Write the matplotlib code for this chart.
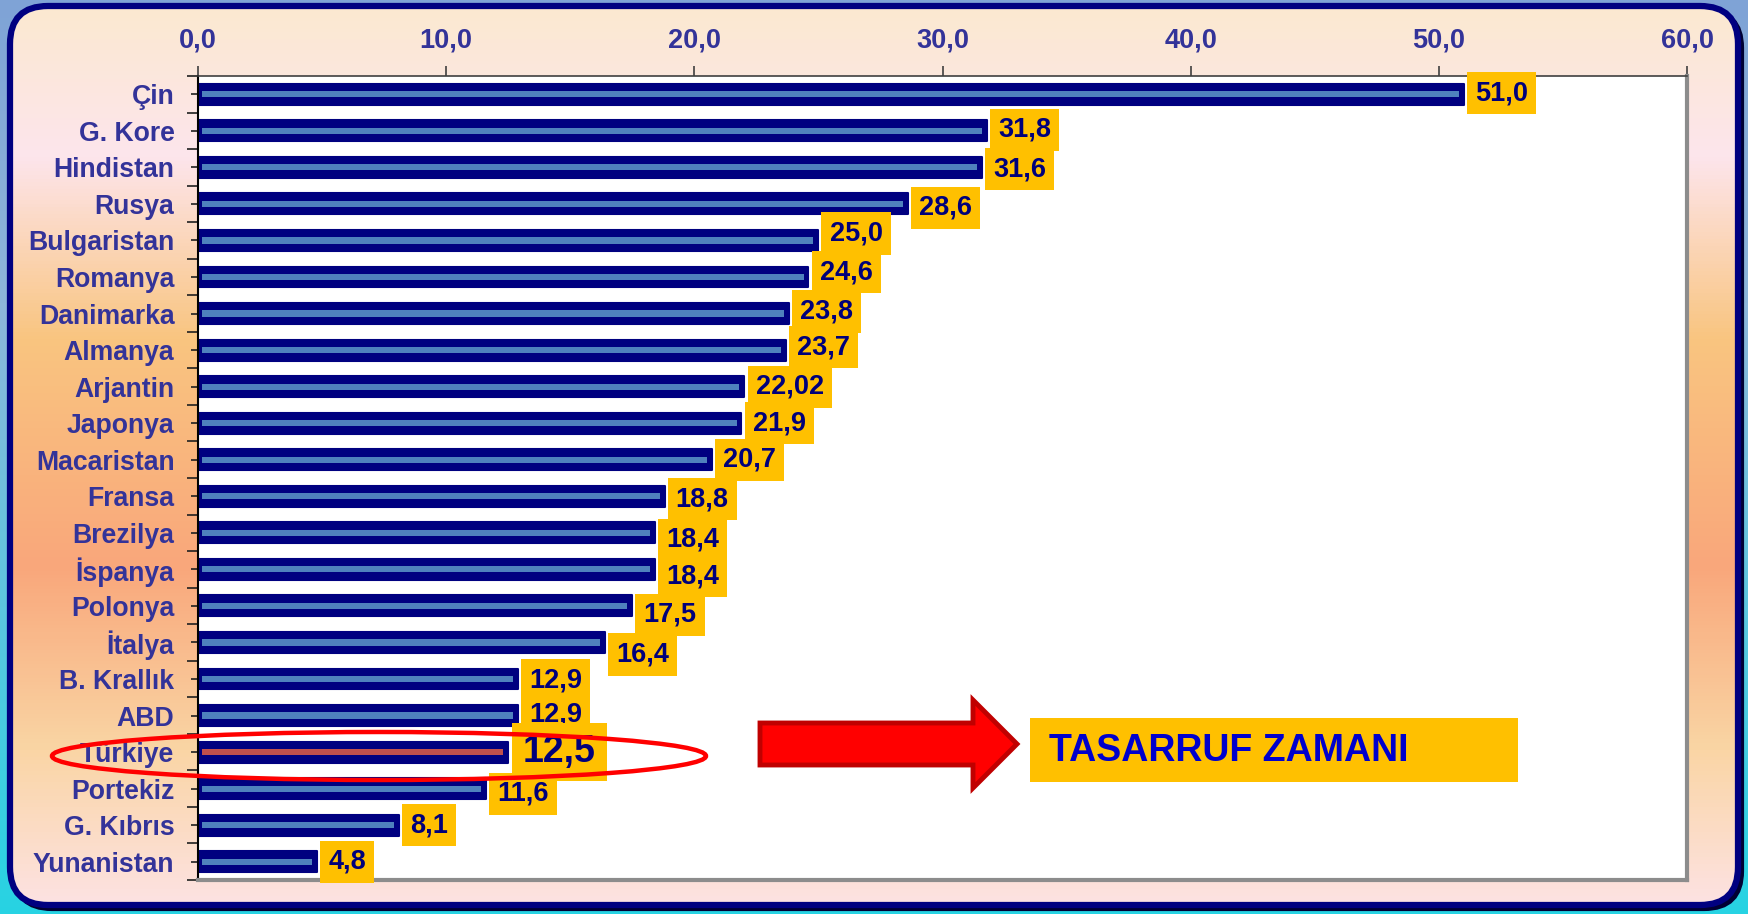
import numpy as np
import matplotlib
matplotlib.use("Agg")
import matplotlib.pyplot as plt
from matplotlib.patches import FancyBboxPatch, Rectangle, Ellipse, Polygon
from matplotlib.colors import LinearSegmentedColormap
from matplotlib.transforms import offset_copy

plt.rcParams['font.family'] = ['Liberation Sans', 'DejaVu Sans']

# ---------------- data ----------------
countries = ["Çin", "G. Kore", "Hindistan", "Rusya", "Bulgaristan", "Romanya",
             "Danimarka", "Almanya", "Arjantin", "Japonya", "Macaristan", "Fransa",
             "Brezilya", "İspanya", "Polonya", "İtalya", "B. Krallık", "ABD",
             "Türkiye", "Portekiz", "G. Kıbrıs", "Yunanistan"]
values = [51.0, 31.8, 31.6, 28.6, 25.0, 24.6, 23.8, 23.7, 22.02, 21.9, 20.7, 18.8,
          18.4, 18.4, 17.5, 16.4, 12.9, 12.9, 12.5, 11.6, 8.1, 4.8]
value_labels = ["51,0", "31,8", "31,6", "28,6", "25,0", "24,6", "23,8", "23,7",
                "22,02", "21,9", "20,7", "18,8", "18,4", "18,4", "17,5", "16,4",
                "12,9", "12,9", "12,5", "11,6", "8,1", "4,8"]
x_ticks = [0, 10, 20, 30, 40, 50, 60]
x_tick_labels = ["0,0", "10,0", "20,0", "30,0", "40,0", "50,0", "60,0"]
highlight = "Türkiye"
callout_text = "TASARRUF ZAMANI"

# small vertical nudges (pixels) of the value boxes, as in the original slide
label_dy_px = [-1, -1, 2, 4, -7, -5, -2, -3, 0, 0, 0, 3, 7, 7, 9, 12, 1, -1, 0, 5, 0, 0]

W, H = 1748, 914
DPI = 100
fig = plt.figure(figsize=(W / DPI, H / DPI), dpi=DPI)

# ---------------- background ----------------
bg = fig.add_axes([0, 0, 1, 1], zorder=-10)
bg.set_xlim(0, W)
bg.set_ylim(H, 0)
bg.axis('off')

outer_cmap = LinearSegmentedColormap.from_list("outer", ["#7FA3D6", "#8DB6DA", "#5CC6DF", "#27D3E3"])
grad = np.linspace(0, 1, 256).reshape(-1, 1)
bg.imshow(grad, cmap=outer_cmap, extent=[0, W, H, 0], aspect='auto', zorder=0)

inner_cmap = LinearSegmentedColormap.from_list(
    "inner",
    [(0.0, "#FBE9CF"), (0.17, "#FDE5EC"), (0.37, "#F9C580"),
     (0.62, "#F9A77B"), (0.82, "#FAD5A4"), (1.0, "#FDE3E6")])

fl, ft, fr, fb = 10, 6, 1738, 905
shadow = FancyBboxPatch((fl + 4, ft + 4), fr - fl, fb - ft,
                        boxstyle="round,pad=0,rounding_size=38",
                        fc="#000033", ec="#000033", lw=3, zorder=1)
bg.add_patch(shadow)
frame = FancyBboxPatch((fl, ft), fr - fl, fb - ft,
                       boxstyle="round,pad=0,rounding_size=38",
                       fc="none", ec="#000080", lw=4.5, zorder=3)
clipbox = FancyBboxPatch((fl, ft), fr - fl, fb - ft,
                         boxstyle="round,pad=0,rounding_size=38",
                         fc="white", ec="none", zorder=1.5)
bg.add_patch(clipbox)
im = bg.imshow(grad, cmap=inner_cmap, extent=[0, W, H, 0], aspect='auto', zorder=2)
im.set_clip_path(clipbox)
bg.add_patch(frame)

# ---------------- main chart ----------------
left_px, right_px, top_px, bot_px = 198, 1687, 76, 880
ax = fig.add_axes([left_px / W, 1 - bot_px / H, (right_px - left_px) / W, (bot_px - top_px) / H])
ax.set_facecolor("white")

n = len(countries)
y = np.arange(n)
vals = np.array(values)

ax.barh(y, vals, height=0.57, color="#000080", edgecolor="#000080",
        linewidth=1.5, joinstyle='round', zorder=2)
inner_colors = ["#C0504D" if c == highlight else "#4F81BD" for c in countries]
ax.barh(y, vals - 0.35, left=0.15, height=0.17, color=inner_colors,
        linewidth=0, zorder=3)

ax.set_xlim(0, 60)
ax.set_ylim(n - 0.5, -0.5)

for i, (v, lab) in enumerate(zip(values, value_labels)):
    big = countries[i] == highlight
    fs = 27 if big else 19.5
    tr = offset_copy(ax.transData, fig=fig, x=0, y=-label_dy_px[i] * 72 / DPI, units='points')
    ax.text(v + (0.6 if big else 0.45), i, lab, transform=tr,
            ha='left', va='center', fontsize=fs, fontweight='bold', color="#00007A",
            bbox=dict(boxstyle='square,pad=0.3', fc="#FFC000", ec='none'), zorder=5)

# axes styling
ax.xaxis.tick_top()
ax.set_xticks(x_ticks)
ax.set_xticklabels(x_tick_labels)
ax.tick_params(axis='x', direction='out', length=7, width=1.2, color='#404040',
               labelsize=19.5, pad=9, labelcolor='#333399')
for t in ax.get_xticklabels():
    t.set_fontweight('bold')

ax.set_yticks(y)
ax.set_yticklabels(countries)
ax.set_yticks(np.arange(n + 1) - 0.5, minor=True)
ax.tick_params(axis='y', which='major', direction='out', length=5, width=1.2,
               color='#202020', labelsize=19.2, pad=12, labelcolor='#333399')
ax.tick_params(axis='y', which='minor', direction='out', length=8, width=1.2, color='#202020')
for t in ax.get_yticklabels():
    t.set_fontweight('bold')

ax.spines['top'].set_color('#404040')
ax.spines['top'].set_linewidth(1.2)
ax.spines['left'].set_color('#000000')
ax.spines['left'].set_linewidth(1.5)
for s in ('right', 'bottom'):
    ax.spines[s].set_color('#8C8C8C')
    ax.spines[s].set_linewidth(3)

# ---------------- overlay annotations ----------------
ov = fig.add_axes([0, 0, 1, 1], zorder=10)
ov.set_xlim(0, W)
ov.set_ylim(H, 0)
ov.axis('off')
ov.patch.set_alpha(0)

ov.add_patch(Ellipse((379, 756), 654, 48, fill=False, ec="#FF0000", lw=3.2))

arrow = Polygon([(760, 723), (973, 723), (973, 700), (1017, 744),
                 (973, 788), (973, 765), (760, 765)], closed=True,
                fc="#FF0000", ec="#C00000", lw=3.5, joinstyle='miter')
ov.add_patch(arrow)

ov.add_patch(Rectangle((1030, 718), 488, 64, fc="#FFC000", ec='none'))
ov.text(1049, 751, callout_text, ha='left', va='center', fontsize=27,
        fontweight='bold', color="#0000CC")

fig.savefig("out.png", dpi=DPI)
